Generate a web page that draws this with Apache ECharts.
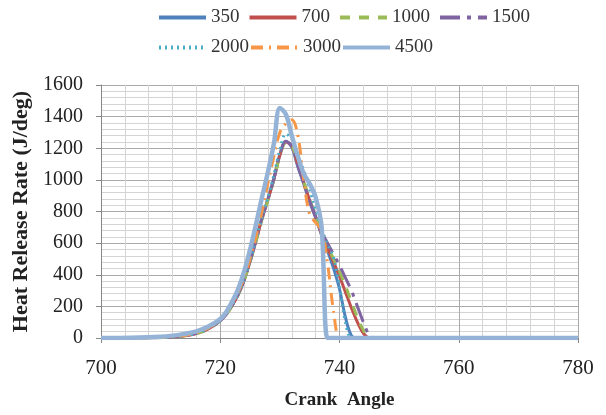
<!DOCTYPE html>
<html>
<head>
<meta charset="utf-8">
<script src="https://cdn.jsdelivr.net/npm/echarts@6/dist/echarts.min.js"></script>
<style>
  html, body { margin: 0; padding: 0; background: #fff; }
  #chart { width: 606px; height: 415px; }
</style>
</head>
<body>
<div id="chart"></div>
<script>
// crank angle (deg)
var angles = [700,705,710,712,714,716,718,720,721,722,723,724,725,726,727,728,729,730,731,732,733,734,735,736,737,738,739,740,741,742,743,744,745,746,748,750,780];

// heat release rate (J/deg) per engine speed
var hr350  = [0,0,3,8,15,30,60,112,152,208,278,368,488,620,760,880,1010,1160,1245,1205,1085,975,860,760,650,550,440,310,130,15,0,0,0,0,0,0,0];
var hr700  = [0,0,3,8,14,28,58,110,150,205,275,365,485,615,755,875,1005,1155,1240,1215,1095,985,870,765,660,570,480,390,290,190,100,30,0,0,0,0,0];
var hr1000 = [0,0,2,7,14,28,56,108,148,202,272,362,480,610,750,870,1000,1150,1235,1220,1100,990,875,770,665,580,500,420,330,230,130,50,5,0,0,0,0];
var hr1500 = [0,0,3,8,15,29,58,110,150,206,276,366,486,618,758,878,1008,1158,1245,1212,1092,980,868,768,670,600,530,460,380,300,200,100,20,0,0,0,0];
var hr2000 = [0,0,3,8,15,30,60,112,153,210,280,370,492,625,768,890,1030,1190,1290,1260,1160,1060,940,810,690,590,510,320,100,0,0,0,0,0,0,0,0];
var hr3000 = [0,0,3,9,16,32,64,118,160,218,290,382,505,640,800,980,1150,1300,1355,1380,1285,1000,780,730,680,470,170,0,0,0,0,0,0,0,0,0,0];
var hr4500 = [0,2,8,15,26,42,72,120,165,230,310,420,560,720,890,1050,1230,1455,1415,1280,1150,1040,975,890,700,0,0,0,0,0,0,0,0,0,0,0,0];

var names  = ['350','700','1000','1500','2000','3000','4500'];
var values = [hr350, hr700, hr1000, hr1500, hr2000, hr3000, hr4500];
var colors = ['#4F81BD','#C0504D','#9BBB59','#8064A2','#4BACC6','#F79646','#95B3D7'];
var dashes = ['solid','solid',[10,9],[20,7,4,7],[2,4],[12,6,2,6],'solid'];
var widths = [3,3,3,3,3,3,4.5];

var font = 'Liberation Serif';

var series = [];
for (var i = 0; i < names.length; i++) {
    var pts = [];
    for (var j = 0; j < angles.length; j++) pts.push([angles[j], values[i][j]]);
    series.push({
        name: names[i],
        type: 'line',
        data: pts,
        smooth: 0.35,
        symbol: 'none',
        color: colors[i],
        lineStyle: { color: colors[i], width: widths[i], type: dashes[i] }
    });
}

var legendText = { fontFamily: font, fontSize: 19, color: '#333' };

var myChart = echarts.init(document.getElementById('chart'));
var option = {
    animation: false,
    legend: [
        {
            data: ['350','700','1000','1500'],
            left: 152, top: 3,
            itemWidth: 47, itemHeight: 12, itemGap: 8,
            itemStyle: { opacity: 0 },
            lineStyle: { width: 4 },
            textStyle: legendText
        },
        {
            data: ['2000','3000','4500'],
            left: 152, top: 33,
            itemWidth: 47, itemHeight: 12, itemGap: 0,
            itemStyle: { opacity: 0 },
            lineStyle: { width: 4 },
            textStyle: legendText
        }
    ],
    grid: { left: 101, right: 28, top: 85, bottom: 73 },
    xAxis: {
        type: 'value',
        min: 700, max: 780, interval: 20,
        name: 'Crank  Angle',
        nameLocation: 'middle',
        nameGap: 53,
        nameTextStyle: { fontFamily: font, fontSize: 19, fontWeight: 'bold', color: '#222' },
        axisLine: { lineStyle: { color: '#888' } },
        axisTick: { lineStyle: { color: '#888' } },
        axisLabel: { fontFamily: font, fontSize: 21, color: '#222', margin: 20 },
        splitLine: { lineStyle: { color: '#aaa' } },
        minorSplitLine: { show: true, lineStyle: { color: '#d4d4d4' } },
        minorTick: { show: false, splitNumber: 5 }
    },
    yAxis: {
        type: 'value',
        min: 0, max: 1600, interval: 200,
        name: 'Heat Release Rate (J/deg)',
        nameLocation: 'middle',
        nameGap: 63,
        nameTextStyle: { fontFamily: font, fontSize: 22, fontWeight: 'bold', color: '#222' },
        axisLine: { show: true, lineStyle: { color: '#888' } },
        axisTick: { show: true, lineStyle: { color: '#888' } },
        axisLabel: { fontFamily: font, fontSize: 20, color: '#222', margin: 18,
            formatter: function (v) { return String(v); } },
        splitLine: { lineStyle: { color: '#aaa' } },
        minorSplitLine: { show: true, lineStyle: { color: '#d4d4d4' } },
        minorTick: { show: false, splitNumber: 5 }
    },
    series: series
};
myChart.setOption(option);
</script>
</body>
</html>
